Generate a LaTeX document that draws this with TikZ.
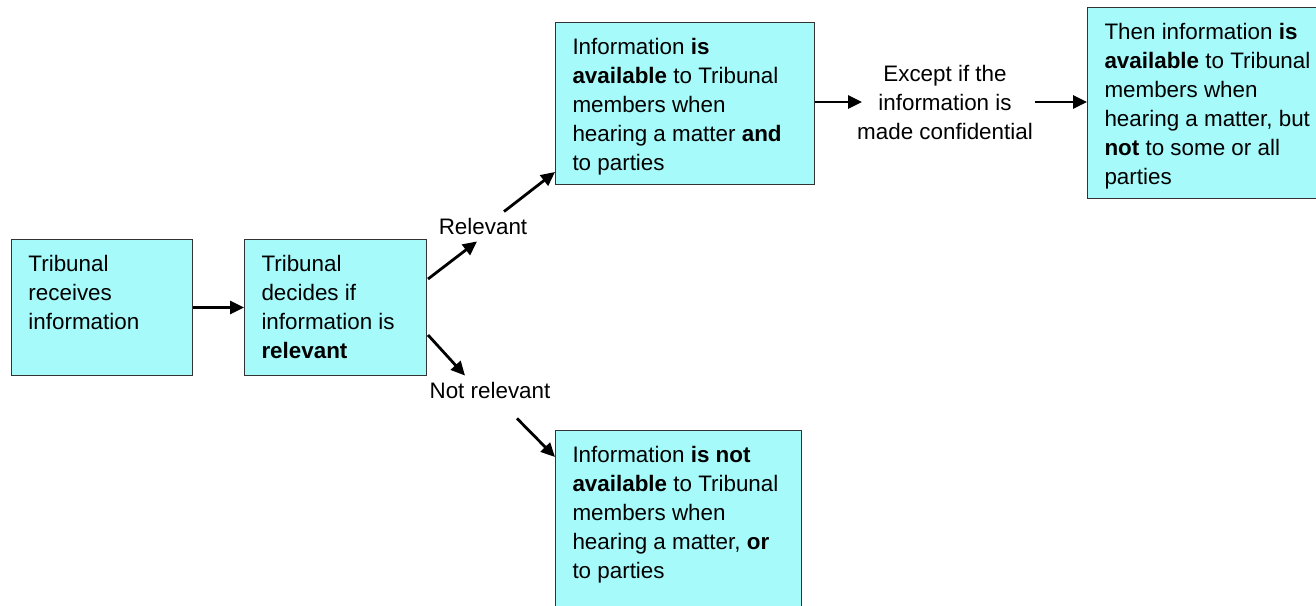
\documentclass[tikz,border=0pt]{standalone}
\usepackage{fontspec}
\setmainfont{Liberation Sans}
\usetikzlibrary{arrows.meta,calc}
\definecolor{boxfill}{RGB}{166,250,250}
\newcommand\boxcontent[3]{\parbox[c][#2][t]{#1}{\raggedright\leftskip=17pt\vspace*{12pt}\strut #3}}
\tikzset{
  box/.style={draw=black!80, line width=1pt, fill=boxfill, inner sep=0pt, anchor=north west, font=\fontsize{22.4}{29}\selectfont},
  lbl/.style={inner sep=0pt, font=\fontsize{22.4}{29}\selectfont},
  arr/.style={line width=2.8pt, -{Triangle[length=14pt,width=13pt]}}
}
\begin{document}
\begin{tikzpicture}[x=1pt,y=-1pt]
\useasboundingbox (0,0) rectangle (1316,605);
\clip (0,0) rectangle (1316,605);
\node[box] (A) at (11,239) {\boxcontent{181pt}{136pt}{Tribunal\\receives\\information}};
\node[box] (B) at (244,239) {\boxcontent{182pt}{136pt}{Tribunal\\decides if\\information is\\\textbf{relevant}}};
\node[box] (C) at (555,22) {\boxcontent{259pt}{162pt}{Information \textbf{is}\\\textbf{available} to Tribunal\\members when\\hearing a matter \textbf{and}\\to parties}};
\node[box] (D) at (1087,7) {\boxcontent{240pt}{191pt}{Then information \textbf{is}\\\textbf{available} to Tribunal\\members when\\hearing a matter, but\\\textbf{not} to some or all\\parties}};
\node[box] (E) at (555,430) {\boxcontent{246pt}{190pt}{Information \textbf{is not}\\\textbf{available} to Tribunal\\members when\\hearing a matter, \textbf{or}\\to parties}};
\node[lbl, anchor=base] (Rel) at (483,234) {Relevant};
\node[lbl, anchor=base] (NR) at (490,398) {Not relevant};
\node[lbl, align=center] (Exc) at (945,102) {Except if the\\information is\\made confidential};
\draw[arr] (A.east) -- (B.west);
\draw[arr] ($(B.north east)+(1,40)$) -- ($(Rel.south)+(-6,7)$);
\draw[arr] ($(Rel.north)+(21,-6)$) -- ($(C.south west)+(0,-13)$);
\draw[arr] ($(B.south east)+(1,-41)$) -- ($(NR.north)+(-25,-6)$);
\draw[arr] ($(NR.south)+(27,20)$) -- ($(E.north west)+(0,27)$);
\draw[arr] (C.east|-Exc.west) -- ($(Exc.west)+(5,0)$);
\draw[arr] ($(Exc.east)+(2,0)$) -- (D.west|-Exc.east);
\end{tikzpicture}
\end{document}
